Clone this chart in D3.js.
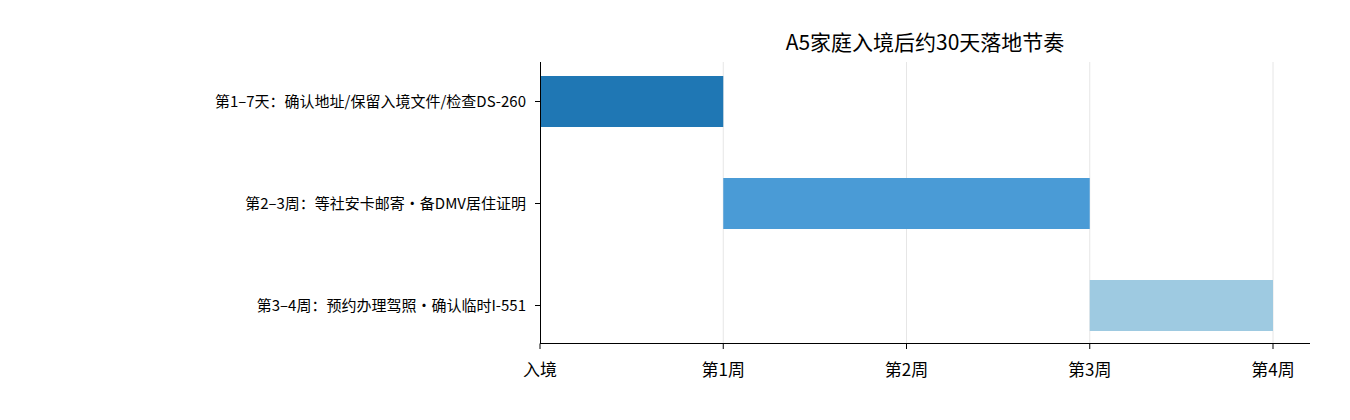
<!DOCTYPE html>
<html><head><meta charset="utf-8">
<script src="https://cdn.jsdelivr.net/npm/d3@7"></script>
<style>body{margin:0;background:#fff}</style></head>
<body><svg id="c" width="1350" height="420"></svg>
<script>
const title = "A5家庭入境后约30天落地节奏";
const tasks = ["第1–7天：确认地址/保留入境文件/检查DS-260","第2–3周：等社安卡邮寄·备DMV居住证明","第3–4周：预约办理驾照·确认临时I-551"];
const starts = [0, 1, 3];
const ends = [1, 3, 4];
const colors = ["#1f77b4", "#4a9bd6", "#9ecae1"];
const tickVals = [0, 1, 2, 3, 4];
const tickLabels = ["入境","第1周","第2周","第3周","第4周"];

const svg = d3.select("#c");
const font = "'Noto Sans CJK SC', sans-serif";
const x = d3.scaleLinear().domain([0, 4]).range([540, 1273]);
const xEnd = 1310;
const y = d3.scaleBand().domain(tasks).range([50.5, 356.5]).paddingInner(0.5).paddingOuter(0.25);

svg.append("g").selectAll("line").data(tickVals.slice(1)).join("line")
  .attr("x1", d => x(d)).attr("x2", d => x(d)).attr("y1", 62).attr("y2", 343)
  .attr("stroke", "#e6e6e6").attr("stroke-width", 1);

svg.append("g").selectAll("rect").data(tasks).join("rect")
  .attr("x", (d, i) => x(starts[i])).attr("width", (d, i) => x(ends[i]) - x(starts[i]))
  .attr("y", d => y(d)).attr("height", y.bandwidth())
  .attr("fill", (d, i) => colors[i]);

// axes
svg.append("line").attr("x1", 540).attr("x2", xEnd).attr("y1", 343.5).attr("y2", 343.5).attr("stroke", "#000");
svg.append("line").attr("x1", 540.5).attr("x2", 540.5).attr("y1", 62).attr("y2", 343.5).attr("stroke", "#000");

const xa = svg.append("g");
tickVals.forEach((v, i) => {
  xa.append("line").attr("x1", x(v)).attr("x2", x(v)).attr("y1", 343.5).attr("y2", 349).attr("stroke", "#000");
  xa.append("text").attr("x", x(v)).attr("y", 376).attr("text-anchor", "middle")
    .attr("font-family", font).attr("font-size", 17).text(tickLabels[i]);
});
tasks.forEach(t => {
  const cy = y(t) + y.bandwidth() / 2;
  svg.append("line").attr("x1", 535).attr("x2", 540).attr("y1", cy).attr("y2", cy).attr("stroke", "#000");
  svg.append("text").attr("x", 526).attr("y", cy).attr("dy", "0.35em").attr("text-anchor", "end")
    .attr("font-family", font).attr("font-size", 15).text(t);
});
svg.append("text").attr("x", 925).attr("y", 50).attr("text-anchor", "middle")
  .attr("font-family", font).attr("font-size", 21).text(title);
</script></body></html>
